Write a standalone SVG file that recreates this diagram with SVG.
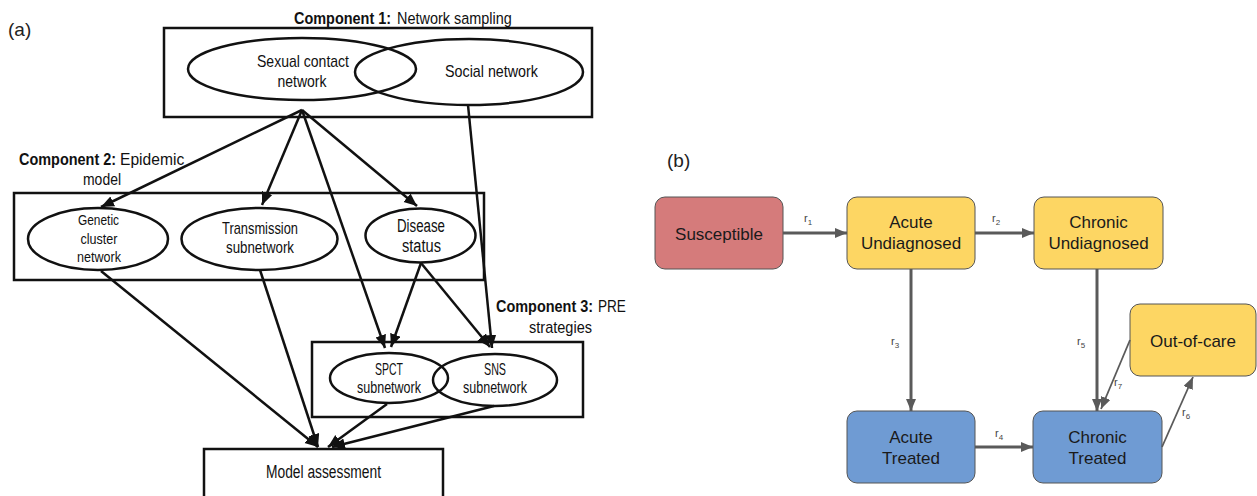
<svg xmlns="http://www.w3.org/2000/svg" width="1257" height="496" viewBox="0 0 1257 496">
  <style>
    .frame { fill: none; stroke: #111; stroke-width: 2.5; }
    .oval { fill: none; stroke: #111; stroke-width: 2.5; }
    .cond { font-family: "Liberation Sans", Arial, sans-serif; fill: #111; text-anchor: middle; }
    .title { font-family: "Liberation Sans", Arial, sans-serif; font-size: 17px; fill: #111; }
    .bold { font-weight: bold; }
    .panel { font-family: "Liberation Sans", Arial, sans-serif; font-size: 19px; fill: #222; }
    .link { fill: none; stroke: #111; stroke-width: 2.5; marker-end: url(#blackHead); }
    .state { stroke: #555; stroke-width: 1; }
    .sus { fill: #d57b7b; }
    .yel { fill: #fdd663; }
    .blu { fill: #6f9bd3; }
    .slab { font-family: "Liberation Sans", Arial, sans-serif; font-size: 17px; fill: #1a1a1a; text-anchor: middle; }
    .flow { fill: none; stroke: #5a5a5a; stroke-width: 3; marker-end: url(#grayHead); }
    .flowThin { fill: none; stroke: #5a5a5a; stroke-width: 1.8; marker-end: url(#grayHead); }
    .rate { font-family: "Liberation Sans", Arial, sans-serif; font-size: 11px; fill: #444; }
    .sub { font-size: 8px; }
  </style>
  <defs>
    <marker id="blackHead" markerUnits="userSpaceOnUse" markerWidth="14" markerHeight="12" refX="13" refY="5.5" orient="auto">
      <path d="M0,0 L13,5.5 L0,11 z" fill="#111"/>
    </marker>
    <marker id="grayHead" markerUnits="userSpaceOnUse" markerWidth="14" markerHeight="12" refX="12" refY="5" orient="auto">
      <path d="M0,0 L12,5 L0,10 z" fill="#5a5a5a"/>
    </marker>
  </defs>

  <!-- Panel (a): framework -->
  <text class="panel" x="8" y="36">(a)</text>

  <g id="component1">
    <text class="title bold" transform="translate(294,24) scale(0.85,1)">Component 1:</text>
    <text class="title" transform="translate(397,24) scale(0.85,1)">Network sampling</text>
    <rect class="frame" x="164" y="28" width="428" height="89"/>
  </g>
  <g id="sexual-contact-network">
    <ellipse class="oval" cx="302" cy="69" rx="114" ry="31"/>
    <text class="cond" x="303" y="67" font-size="17" textLength="92" lengthAdjust="spacingAndGlyphs">Sexual contact</text>
    <text class="cond" x="302" y="87" font-size="17" textLength="49" lengthAdjust="spacingAndGlyphs">network</text>
  </g>
  <g id="social-network">
    <ellipse class="oval" cx="469" cy="72" rx="114" ry="33"/>
    <text class="cond" x="491.5" y="77" font-size="17" textLength="93" lengthAdjust="spacingAndGlyphs">Social network</text>
  </g>

  <g id="component2">
    <text class="title bold" transform="translate(19,165) scale(0.85,1)">Component 2:</text>
    <text class="title" transform="translate(120,165) scale(0.92,1)">Epidemic</text>
    <text class="cond" x="102" y="185" font-size="17" textLength="38" lengthAdjust="spacingAndGlyphs">model</text>
    <rect class="frame" x="14" y="193" width="470" height="87"/>
  </g>
  <g id="genetic-cluster-network">
    <ellipse class="oval" cx="98" cy="239" rx="70" ry="31"/>
    <text class="cond" x="98.5" y="225" font-size="15.5" textLength="41" lengthAdjust="spacingAndGlyphs">Genetic</text>
    <text class="cond" x="99" y="243.5" font-size="15.5" textLength="37" lengthAdjust="spacingAndGlyphs">cluster</text>
    <text class="cond" x="99" y="262" font-size="15.5" textLength="44" lengthAdjust="spacingAndGlyphs">network</text>
  </g>
  <g id="transmission-subnetwork">
    <ellipse class="oval" cx="259.5" cy="239" rx="78" ry="31"/>
    <text class="cond" x="260" y="234" font-size="17" textLength="76" lengthAdjust="spacingAndGlyphs">Transmission</text>
    <text class="cond" x="260" y="253" font-size="17" textLength="68" lengthAdjust="spacingAndGlyphs">subnetwork</text>
  </g>
  <g id="disease-status">
    <ellipse class="oval" cx="420.5" cy="235.5" rx="55" ry="27"/>
    <text class="cond" x="421" y="232" font-size="18" textLength="48" lengthAdjust="spacingAndGlyphs">Disease</text>
    <text class="cond" x="421.5" y="252" font-size="18" textLength="39" lengthAdjust="spacingAndGlyphs">status</text>
  </g>

  <g id="component3">
    <text class="title bold" transform="translate(496,312) scale(0.85,1)">Component 3:</text>
    <text class="title" transform="translate(598,312) scale(0.8,1)">PRE</text>
    <text class="cond" x="560.5" y="333" font-size="17" textLength="63" lengthAdjust="spacingAndGlyphs">strategies</text>
    <rect class="frame" x="312" y="342" width="271" height="75"/>
  </g>
  <g id="spct-subnetwork">
    <ellipse class="oval" cx="389" cy="378" rx="59" ry="25"/>
    <text class="cond" x="389" y="375" font-size="16.5" textLength="28" lengthAdjust="spacingAndGlyphs">SPCT</text>
    <text class="cond" x="389" y="393" font-size="16.5" textLength="64" lengthAdjust="spacingAndGlyphs">subnetwork</text>
  </g>
  <g id="sns-subnetwork">
    <ellipse class="oval" cx="495" cy="380" rx="62" ry="26"/>
    <text class="cond" x="495" y="375" font-size="16.5" textLength="22" lengthAdjust="spacingAndGlyphs">SNS</text>
    <text class="cond" x="495" y="393" font-size="16.5" textLength="64" lengthAdjust="spacingAndGlyphs">subnetwork</text>
  </g>

  <g id="model-assessment">
    <rect class="frame" x="204" y="449" width="239" height="60"/>
    <text class="cond" x="323.5" y="478" font-size="18" textLength="115" lengthAdjust="spacingAndGlyphs">Model assessment</text>
  </g>

  <g id="framework-links">
    <line class="link" x1="302" y1="110" x2="101" y2="207"/>
    <line class="link" x1="302" y1="110" x2="262" y2="205"/>
    <line class="link" x1="302" y1="110" x2="385" y2="348"/>
    <line class="link" x1="302" y1="110" x2="417" y2="206"/>
    <line class="link" x1="468" y1="105" x2="492" y2="348"/>
    <line class="link" x1="421" y1="263" x2="391" y2="347"/>
    <line class="link" x1="421" y1="263" x2="490" y2="347"/>
    <line class="link" x1="101" y1="271" x2="318" y2="447"/>
    <line class="link" x1="260" y1="270" x2="318" y2="447"/>
    <line class="link" x1="387" y1="404" x2="328" y2="447"/>
    <line class="link" x1="494" y1="406" x2="332" y2="447"/>
  </g>

  <!-- Panel (b): care cascade states -->
  <text class="panel" x="667" y="167">(b)</text>

  <g id="susceptible">
    <rect class="state sus" x="655" y="197" width="128" height="72" rx="10"/>
    <text class="slab" x="719" y="240">Susceptible</text>
  </g>
  <g id="acute-undiagnosed">
    <rect class="state yel" x="847" y="197" width="128" height="72" rx="10"/>
    <text class="slab" x="911" y="228">Acute</text>
    <text class="slab" x="911" y="249">Undiagnosed</text>
  </g>
  <g id="chronic-undiagnosed">
    <rect class="state yel" x="1034" y="197" width="129" height="72" rx="10"/>
    <text class="slab" x="1098.5" y="228">Chronic</text>
    <text class="slab" x="1098.5" y="249">Undiagnosed</text>
  </g>
  <g id="out-of-care">
    <rect class="state yel" x="1130" y="304" width="126" height="72" rx="10"/>
    <text class="slab" x="1193" y="347">Out-of-care</text>
  </g>
  <g id="acute-treated">
    <rect class="state blu" x="847" y="411" width="128" height="72" rx="10"/>
    <text class="slab" x="911" y="443">Acute</text>
    <text class="slab" x="911" y="464">Treated</text>
  </g>
  <g id="chronic-treated">
    <rect class="state blu" x="1033" y="411" width="129" height="72" rx="10"/>
    <text class="slab" x="1097.5" y="443">Chronic</text>
    <text class="slab" x="1097.5" y="464">Treated</text>
  </g>

  <g id="cascade-flows">
    <line class="flow" x1="783" y1="233" x2="847" y2="233"/>
    <line class="flow" x1="975" y1="233" x2="1034" y2="233"/>
    <line class="flow" x1="911" y1="269" x2="911" y2="411"/>
    <line class="flow" x1="1097" y1="269" x2="1097" y2="411"/>
    <line class="flow" x1="975" y1="447" x2="1033" y2="447"/>
    <line class="flowThin" x1="1130" y1="340" x2="1101" y2="409"/>
    <line class="flowThin" x1="1162" y1="447" x2="1193" y2="377"/>
    <text class="rate" x="804" y="222">r<tspan class="sub" dy="3">1</tspan></text>
    <text class="rate" x="992" y="222">r<tspan class="sub" dy="3">2</tspan></text>
    <text class="rate" x="891" y="345">r<tspan class="sub" dy="3">3</tspan></text>
    <text class="rate" x="995" y="437">r<tspan class="sub" dy="3">4</tspan></text>
    <text class="rate" x="1077" y="345">r<tspan class="sub" dy="3">5</tspan></text>
    <text class="rate" x="1182" y="416">r<tspan class="sub" dy="3">6</tspan></text>
    <text class="rate" x="1114" y="386">r<tspan class="sub" dy="3">7</tspan></text>
  </g>
</svg>
